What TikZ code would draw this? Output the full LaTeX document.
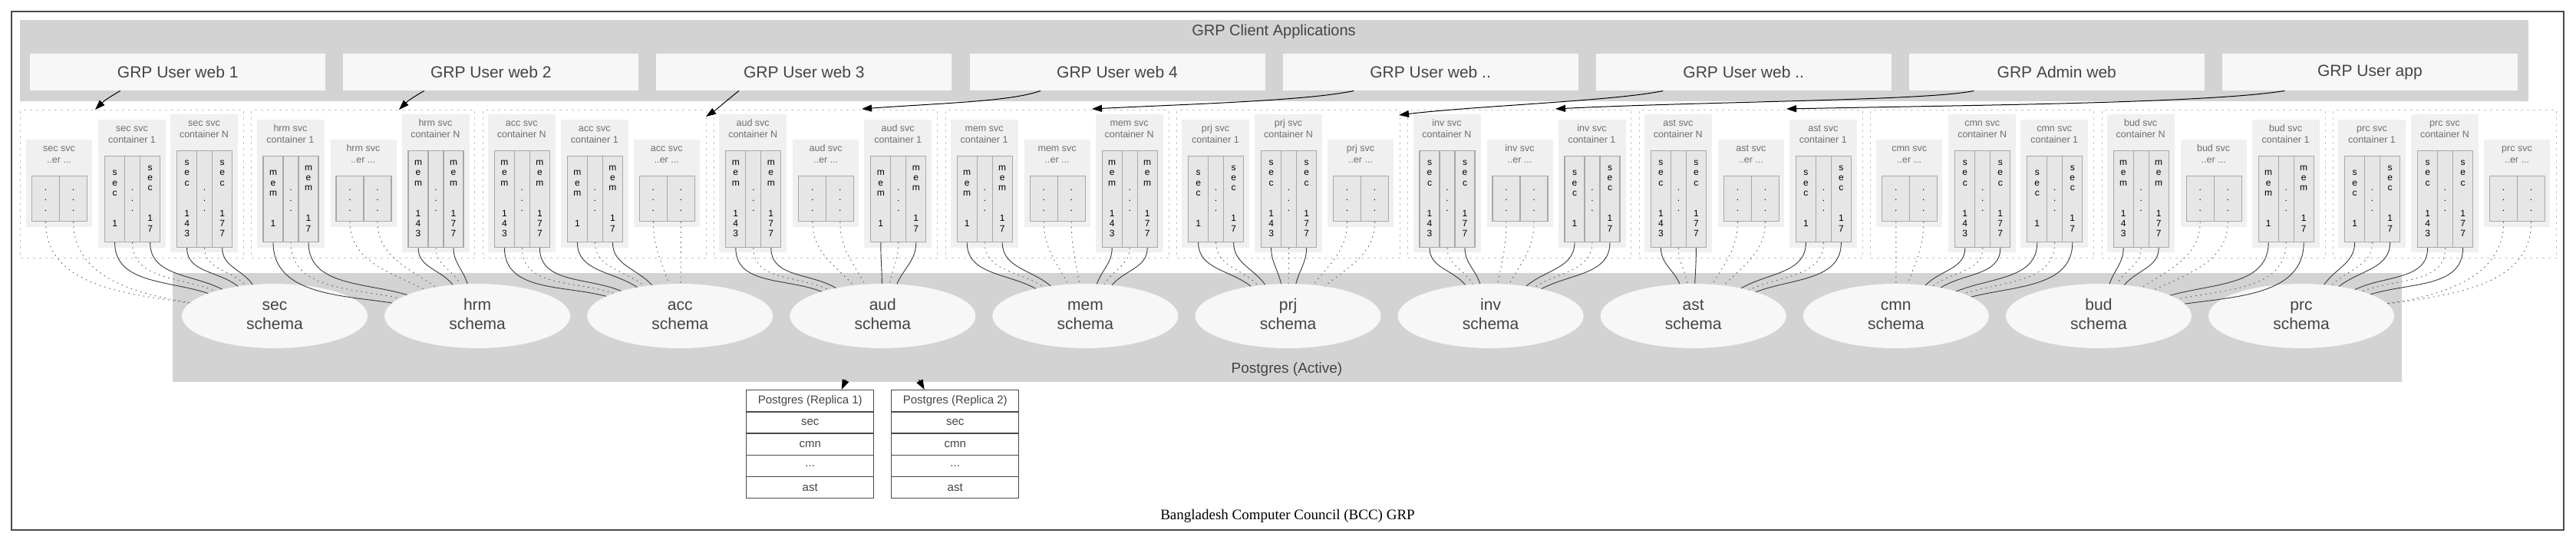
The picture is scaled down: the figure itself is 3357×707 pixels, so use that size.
\documentclass[tikz,border=0pt]{standalone}
\usepackage{fontspec}
\setmainfont{Liberation Sans}
\newfontfamily\capfont{Liberation Serif}
\usetikzlibrary{calc,arrows.meta,shapes.geometric}
\pgfdeclarelayer{edges}
\pgfsetlayers{main,edges}
\definecolor{clgray}{HTML}{D3D3D3}
\definecolor{boxfill}{HTML}{F7F7F7}
\definecolor{contfill}{HTML}{F0F0F0}
\definecolor{cellfill}{HTML}{E6E6E6}
\definecolor{cellline}{HTML}{A8A8A8}
\definecolor{dashcol}{HTML}{C4C4C4}
\definecolor{txtdark}{HTML}{444444}
\definecolor{txtmid}{HTML}{6E6E6E}
\definecolor{edgecol}{HTML}{3A3A3A}
\definecolor{dotcol}{HTML}{5A5A5A}
\definecolor{framecol}{HTML}{4A4A4A}
\newcommand\fWeb{\fontsize{21}{25}\selectfont}
\newcommand\fTitle{\fontsize{20}{24}\selectfont}
\newcommand\fCont{\fontsize{12.5}{15}\selectfont}
\newcommand\fCell{\fontsize{12}{13.33}\selectfont}
\newcommand\fSchema{\fontsize{21}{25}\selectfont}
\newcommand\fRep{\fontsize{15}{18}\selectfont}
\newcommand\fCap{\fontsize{19}{22}\selectfont}
\newcommand\vcol[1]{\begin{tabular}{@{}c@{}}#1\end{tabular}}
\newcommand\Ls{s\\e\\c}
\newcommand\Lm{m\\e\\m}
\tikzset{
  webbox/.style={fill=boxfill, minimum width=385pt, minimum height=48pt, inner sep=0pt, anchor=north west, font=\fWeb, text=txtdark},
  clusterbox/.style={draw=dashcol, line width=1pt, dash pattern=on 3pt off 5pt, minimum width=291pt, minimum height=193pt, inner sep=0pt, anchor=north west},
  contbox/.style={fill=contfill, inner sep=0pt, anchor=north west},
  conttitle/.style={font=\fCont, text=txtmid, inner sep=0pt},
  cellbox/.style={draw=cellline, fill=cellfill, line width=1.2pt, inner sep=0pt, anchor=north west, font=\fCell, text=black},
  schema/.style={ellipse, fill=boxfill, minimum width=242pt, minimum height=84pt, inner sep=0pt, font=\fSchema, text=txtdark},
  solidedge/.style={draw=edgecol, line width=0.9pt},
  dotedge/.style={draw=dotcol, line width=0.9pt, dash pattern=on 1.5pt off 5pt},
  arr/.style={draw=black, line width=1pt, -{Triangle[length=13pt,width=9pt]}},
  reprow/.style={draw=framecol, line width=1.4pt, minimum width=166pt, minimum height=28.2pt, inner sep=0pt, anchor=north west, font=\fRep, text=txtdark},
}
% edge from a record cell to its schema ellipse; landing point spread along the upper arc
\newcommand\lnk[3]{\draw[#3] let \p1=(#1.south), \p2=(#2.center),
   \n2={min(112,max(-112,0.42*((\x1)-(\x2))))},
   \n1={atan2(42*sqrt(1-(\n2/121)^2),\n2)} in (#1.south) to[out=-90,in=\n1] (#2);}
% container 1: #1 cluster, #2 slot x, #3 letters, #4 id suffix
\newcommand\cOne[4]{%
  \node[contbox, minimum width=88pt, minimum height=167pt] (#1#4) at (#2,-156) {};
  \node[conttitle] at (#2+44,-175.5) {\vcol{#1 svc\\container 1}};
  \node[cellbox, minimum width=26pt, minimum height=112pt] (#1#4a) at (#2+8,-203) {\vcol{#3\\ \\ \\1}};
  \node[cellbox, minimum width=20pt, minimum height=112pt] (#1#4b) at (#2+34,-203) {\vcol{.\\.\\.}};
  \node[cellbox, minimum width=26pt, minimum height=112pt] (#1#4c) at (#2+54,-203) {\vcol{#3\\ \\ \\1\\7}};
  \begin{pgfonlayer}{edges}\lnk{#1#4a}{s#1}{solidedge}\lnk{#1#4b}{s#1}{dotedge}\lnk{#1#4c}{s#1}{solidedge}\end{pgfonlayer}}
% container N
\newcommand\cN[4]{%
  \node[contbox, minimum width=88pt, minimum height=180pt] (#1#4) at (#2,-149) {};
  \node[conttitle] at (#2+44,-168.5) {\vcol{#1 svc\\container N}};
  \node[cellbox, minimum width=26pt, minimum height=126pt] (#1#4a) at (#2+8,-196) {\vcol{#3\\ \\ \\1\\4\\3}};
  \node[cellbox, minimum width=20pt, minimum height=126pt] (#1#4b) at (#2+34,-196) {\vcol{.\\.\\.}};
  \node[cellbox, minimum width=26pt, minimum height=126pt] (#1#4c) at (#2+54,-196) {\vcol{#3\\ \\ \\1\\7\\7}};
  \begin{pgfonlayer}{edges}\lnk{#1#4a}{s#1}{solidedge}\lnk{#1#4b}{s#1}{dotedge}\lnk{#1#4c}{s#1}{solidedge}\end{pgfonlayer}}
% container ..er ...
\newcommand\cEr[3]{%
  \node[contbox, minimum width=86pt, minimum height=114pt] (#1#3) at (#2+1,-182) {};
  \node[conttitle] at (#2+44,-201.5) {\vcol{#1 svc\\..er ...}};
  \node[cellbox, minimum width=36pt, minimum height=59pt] (#1#3a) at (#2+8,-229) {\vcol{.\\.\\.}};
  \node[cellbox, minimum width=36pt, minimum height=59pt] (#1#3b) at (#2+44,-229) {\vcol{.\\.\\.}};
  \begin{pgfonlayer}{edges}\lnk{#1#3a}{s#1}{dotedge}\lnk{#1#3b}{s#1}{dotedge}\end{pgfonlayer}}
\newcommand\reptab[3]{%
  \node[reprow] (#1t) at (#2,-508) {Postgres (Replica #3)};
  \node[reprow] (#1a) at (#2,-536.2) {sec};
  \node[reprow] (#1b) at (#2,-564.4) {cmn};
  \node[reprow] (#1c) at (#2,-592.6) {...};
  \node[reprow] (#1d) at (#2,-620.8) {ast};}
\begin{document}
\begin{tikzpicture}[x=1pt,y=1pt]
\useasboundingbox (0,0) rectangle (3357,-707);
\draw[framecol, line width=2pt] (15,-15) rectangle (3341,-691);
% client applications
\node[fill=clgray, anchor=north west, minimum width=3269pt, minimum height=106pt, inner sep=0pt] (clientbox) at (26,-26) {};
\node[font=\fTitle, text=txtdark] (clienttitle) at (1660,-41) {GRP Client Applications};
\foreach \t [count=\i from 0] in {GRP User web 1,GRP User web 2,GRP User web 3,GRP User web 4,GRP User web ..,GRP User web ..,GRP Admin web,GRP User app}
  {\node[webbox] (web\i) at (39+408.1*\i,-70) {}; \node[font=\fWeb, text=txtdark] at (web\i.center) {\t};}
% service clusters
\foreach \nm [count=\i from 0] in {sec,hrm,acc,aud,mem,prj,inv,ast,cmn,bud,prc}
  {\node[clusterbox] (cl\nm) at (26+301.4*\i,-143) {};}
% postgres active
\node[fill=clgray, anchor=north west, minimum width=2905pt, minimum height=142pt, inner sep=0pt] (pgbox) at (225,-356) {};
\node[font=\fontsize{19}{22}\selectfont, text=txtdark] (pglabel) at (1677,-482) {Postgres (Active)};
\foreach \nm [count=\i from 0] in {sec,hrm,acc,aud,mem,prj,inv,ast,cmn,bud,prc}
  {\node[schema] (s\nm) at (358+264.1*\i,-412) {\vcol{\nm\\schema}};}
% containers
\cEr{sec}{33}{A}\cOne{sec}{128}{\Ls}{B}\cN{sec}{222}{\Ls}{C}
\cOne{hrm}{334.4}{\Lm}{A}\cEr{hrm}{429.4}{B}\cN{hrm}{523.4}{\Lm}{C}
\cN{acc}{635.8}{\Lm}{A}\cOne{acc}{730.8}{\Lm}{B}\cEr{acc}{824.8}{C}
\cN{aud}{937.2}{\Lm}{A}\cEr{aud}{1032.2}{B}\cOne{aud}{1126.2}{\Lm}{C}
\cOne{mem}{1238.6}{\Lm}{A}\cEr{mem}{1333.6}{B}\cN{mem}{1427.6}{\Lm}{C}
\cOne{prj}{1540}{\Ls}{A}\cN{prj}{1635}{\Ls}{B}\cEr{prj}{1729}{C}
\cN{inv}{1841.4}{\Ls}{A}\cEr{inv}{1936.4}{B}\cOne{inv}{2030.4}{\Ls}{C}
\cN{ast}{2142.8}{\Ls}{A}\cEr{ast}{2237.8}{B}\cOne{ast}{2331.8}{\Ls}{C}
\cEr{cmn}{2444.2}{A}\cN{cmn}{2539.2}{\Ls}{B}\cOne{cmn}{2633.2}{\Ls}{C}
\cN{bud}{2745.6}{\Lm}{A}\cEr{bud}{2840.6}{B}\cOne{bud}{2934.6}{\Lm}{C}
\cOne{prc}{3047}{\Ls}{A}\cN{prc}{3142}{\Ls}{B}\cEr{prc}{3236}{C}
% arrows from client apps to service clusters
\coordinate (t0) at (124,-143);
\coordinate (t1) at (520,-143);
\coordinate (t2) at (920,-152);
\coordinate (t3) at (1123,-142);
\coordinate (t4) at (1423,-142);
\coordinate (t5) at (1823,-150);
\coordinate (t6) at (2027,-142);
\coordinate (t7) at (2328,-142);
\draw[arr] ([xshift=-75pt]web0.south) to[out=-150,in=45] (t0);
\draw[arr] ([xshift=-87pt]web1.south) to[out=-150,in=45] (t1);
\draw[arr] ([xshift=-85pt]web2.south) .. controls +(-15,-12) and +(12,8) .. (t2);
\draw[arr] ([xshift=-100pt]web3.south) .. controls +(-40,-14) and +(110,8) .. (t3);
\draw[arr] ([xshift=-100pt]web4.south) .. controls +(-60,-13) and +(120,6) .. (t4);
\draw[arr] ([xshift=-105pt]web5.south) .. controls +(-60,-13) and +(100,12) .. (t5);
\draw[arr] ([xshift=-108pt]web6.south) .. controls +(-60,-13) and +(200,10) .. (t6);
\draw[arr] ([xshift=-111pt]web7.south) .. controls +(-100,-16) and +(250,5) .. (t7);
% replicas
\reptab{ra}{972}{1}
\reptab{rb}{1161}{2}
\coordinate (pa1) at (1102.5,-495);
\coordinate (pa2) at (1197.5,-495);
\draw[arr] (pa1) -- ([xshift=41pt]rat.north);
\draw[arr] (pa2) -- ([xshift=-40pt]rbt.north);
\node[font=\capfont\fCap, text=black] (cap) at (1678,-673) {Bangladesh Computer Council (BCC) GRP};
\end{tikzpicture}
\end{document}
